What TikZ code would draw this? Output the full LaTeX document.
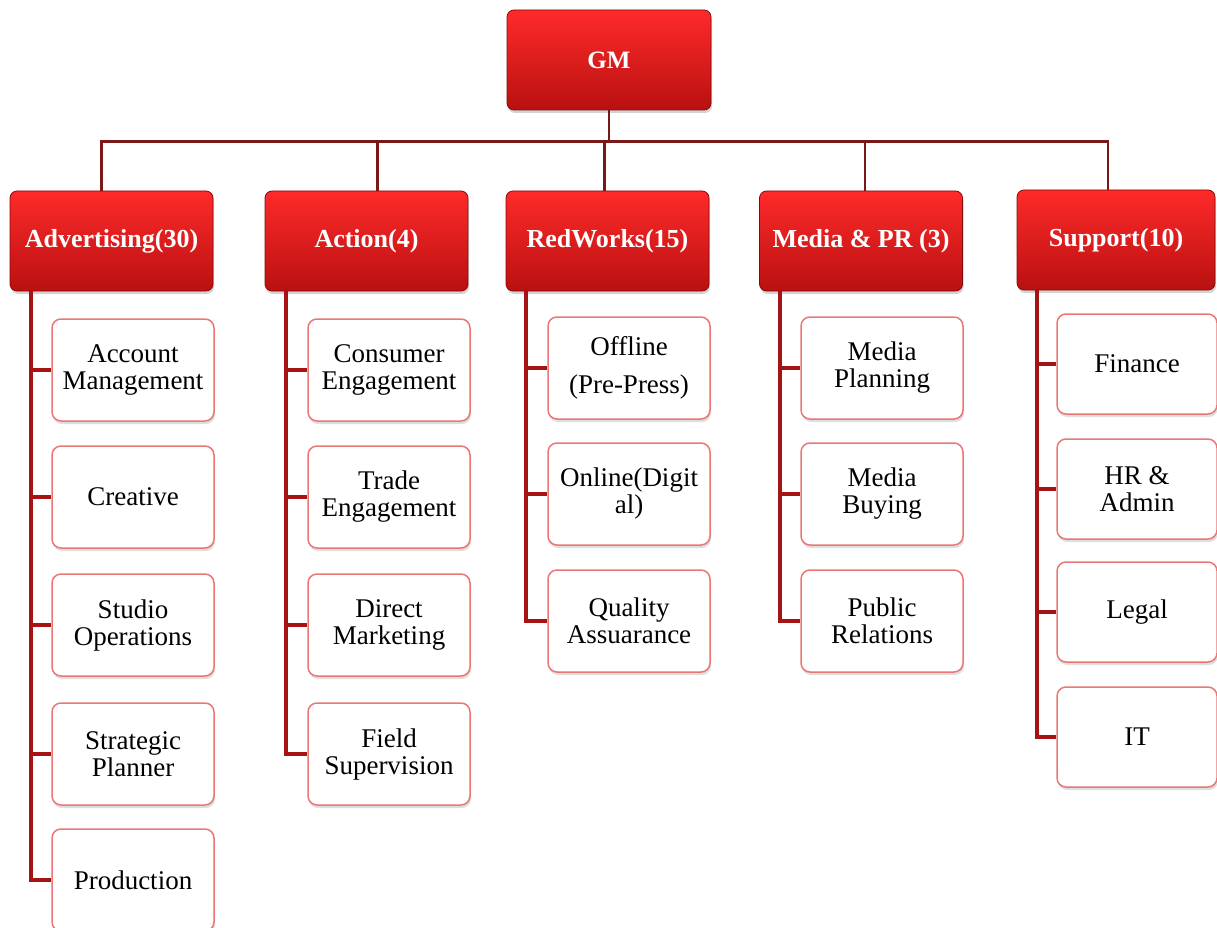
\documentclass[tikz,border=0pt]{standalone}
\usepackage{fontspec}
\setmainfont{Liberation Serif}
\usetikzlibrary{shadows}
\definecolor{headtop}{RGB}{255,42,42}
\definecolor{headbot}{RGB}{185,16,16}
\definecolor{headedge}{RGB}{135,10,10}
\definecolor{boxedge}{RGB}{236,118,118}
\definecolor{busred}{RGB}{122,24,24}
\definecolor{branchred}{RGB}{165,20,20}
\begin{document}
\begin{tikzpicture}[x=1pt,y=-1pt,
    headbox/.style={draw=headedge,line width=0.8pt,rounded corners=7pt,
      top color=headtop,bottom color=headbot,text=white,align=center,
      font=\fontsize{26}{28}\selectfont\bfseries,
      minimum width=203pt,minimum height=100pt,
      drop shadow={shadow xshift=1pt,shadow yshift=-3pt,opacity=0.35}},
    gmbox/.style={headbox,font=\fontsize{25}{27}\selectfont\bfseries,minimum width=204pt},
    childbox/.style={draw=boxedge,line width=1.5pt,rounded corners=9pt,fill=white,
      text=black,align=center,font=\fontsize{27}{27}\selectfont,
      minimum width=162pt,minimum height=102pt,
      drop shadow={shadow xshift=1pt,shadow yshift=-3pt,opacity=0.25}},
    bus/.style={draw=busred,line width=2.5pt},
    branch/.style={draw=branchred,line width=4pt}]
  \useasboundingbox (0,0) rectangle (1217,928);
  \node[gmbox] (gm) at (609,60) {GM};
  \node[headbox] (adv) at (111.5,241) {Advertising(30)};
  \node[headbox] (act) at (366.5,241) {Action(4)};
  \node[headbox] (red) at (607.5,241) {RedWorks(15)};
  \node[headbox] (med) at (861,241) {Media \& PR (3)};
  \node[headbox,minimum width=198pt] (sup) at (1116,240) {Support(10)};
  \node[childbox] (adv1) at (133,370) {Account\\Management};
  \node[childbox] (adv2) at (133,497) {Creative};
  \node[childbox] (adv3) at (133,625) {Studio\\Operations};
  \node[childbox] (adv4) at (133,754) {Strategic\\Planner};
  \node[childbox] (adv5) at (133,880) {Production};
  \node[childbox] (act1) at (389,370) {Consumer\\Engagement};
  \node[childbox] (act2) at (389,497) {Trade\\Engagement};
  \node[childbox] (act3) at (389,625) {Direct\\Marketing};
  \node[childbox] (act4) at (389,754) {Field\\Supervision};
  \node[childbox] (red1) at (629,368) {Offline\\[11pt](Pre-Press)};
  \node[childbox] (red2) at (629,494) {Online(Digit\\al)};
  \node[childbox] (red3) at (629,621) {Quality\\Assuarance};
  \node[childbox] (med1) at (882,368) {Media\\Planning};
  \node[childbox] (med2) at (882,494) {Media\\Buying};
  \node[childbox] (med3) at (882,621) {Public\\Relations};
  \node[childbox,minimum width=160pt,minimum height=100pt] (sup1) at (1137,364) {Finance};
  \node[childbox,minimum width=160pt,minimum height=100pt] (sup2) at (1137,489) {HR \&\\Admin};
  \node[childbox,minimum width=160pt,minimum height=100pt] (sup3) at (1137,612) {Legal};
  \node[childbox,minimum width=160pt,minimum height=100pt] (sup4) at (1137,737) {IT};
  \begin{scope}[bus]
    \draw (gm.south) -- ++(0,31) -| ([xshift=-10pt]adv.north);
    \draw (gm.south) -- ++(0,31) -| ([xshift=11pt]act.north);
    \draw (gm.south) -- ++(0,31) -| ([xshift=-3pt]red.north);
    \draw (gm.south) -- ++(0,31) -| ([xshift=4pt]med.north);
    \draw (gm.south) -- ++(0,31) -| ([xshift=-8pt]sup.north);
  \end{scope}
  \begin{scope}[branch]
    \draw ([xshift=21pt]adv.south west) |- (adv1.west);
    \draw ([xshift=21pt]adv.south west) |- (adv2.west);
    \draw ([xshift=21pt]adv.south west) |- (adv3.west);
    \draw ([xshift=21pt]adv.south west) |- (adv4.west);
    \draw ([xshift=21pt]adv.south west) |- (adv5.west);
    \draw ([xshift=21pt]act.south west) |- (act1.west);
    \draw ([xshift=21pt]act.south west) |- (act2.west);
    \draw ([xshift=21pt]act.south west) |- (act3.west);
    \draw ([xshift=21pt]act.south west) |- (act4.west);
    \draw ([xshift=20pt]red.south west) |- (red1.west);
    \draw ([xshift=20pt]red.south west) |- (red2.west);
    \draw ([xshift=20pt]red.south west) |- (red3.west);
    \draw ([xshift=21pt]med.south west) |- (med1.west);
    \draw ([xshift=21pt]med.south west) |- (med2.west);
    \draw ([xshift=21pt]med.south west) |- (med3.west);
    \draw ([xshift=20pt]sup.south west) |- (sup1.west);
    \draw ([xshift=20pt]sup.south west) |- (sup2.west);
    \draw ([xshift=20pt]sup.south west) |- (sup3.west);
    \draw ([xshift=20pt]sup.south west) |- (sup4.west);
  \end{scope}
\end{tikzpicture}
\end{document}
